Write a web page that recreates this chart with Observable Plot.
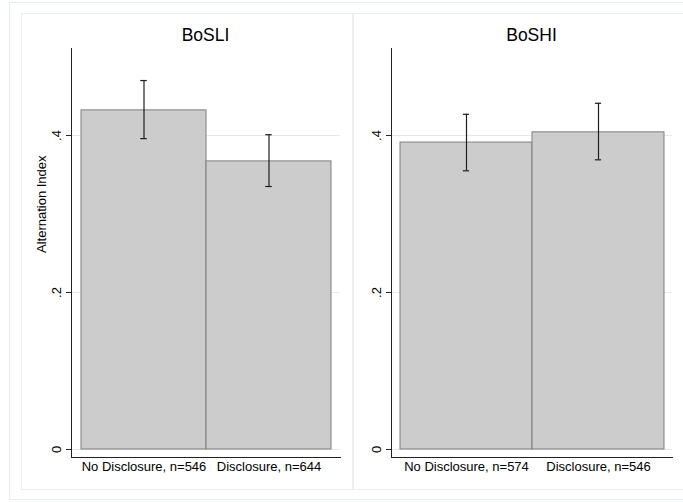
<!DOCTYPE html>
<html>
<head>
<meta charset="utf-8">
<script src="https://cdn.jsdelivr.net/npm/d3@7"></script>
<script src="https://cdn.jsdelivr.net/npm/@observablehq/plot@0.6"></script>
<style>
  html, body { margin: 0; padding: 0; background: #fff; }
  #wrap { position: relative; width: 683px; height: 502px; background: #fff; overflow: hidden;
          font-family: "Liberation Sans", Arial, Helvetica, sans-serif; }
  .box { position: absolute; box-sizing: border-box; }
  .title { position: absolute; top: 24px; font-size: 17.5px; color: #000; text-align: center; line-height: 22px; }
  .chart { position: absolute; top: 0; }
</style>
</head>
<body>
<div id="wrap">
  <div class="box" style="left:9px;top:2px;width:700px;height:498px;border:1px solid #e4eeef;"></div>
  <div class="box" style="left:21px;top:13px;width:332px;height:477px;border:1.5px solid #eeeeee;"></div>
  <div class="box" style="left:353px;top:13px;width:400px;height:477px;border:1.5px solid #eeeeee;"></div>
</div>
<script>
// ---- data ----
const panelTitles = ["BoSLI", "BoSHI"];
const bosliCategories = ["No Disclosure, n=546", "Disclosure, n=644"];
const bosliMeans = [0.432, 0.367];
const bosliLower = [0.396, 0.335];
const bosliUpper = [0.470, 0.401];

const boshiCategories = ["No Disclosure, n=574", "Disclosure, n=546"];
const boshiMeans = [0.391, 0.404];
const boshiLower = [0.355, 0.369];
const boshiUpper = [0.427, 0.441];

const yTicks = [0, 0.2, 0.4];
const yTickLabels = ["0", ".2", ".4"];
const yAxisLabel = "Alternation Index";

// ---- drawing ----
const FONT = '"Liberation Sans", Arial, Helvetica, sans-serif';
const wrap = document.getElementById("wrap");

function panel({cats, means, lo, hi, left, width, marginLeft, marginRight, paddingOuter, showLabel, title}) {
  const data = cats.map((c, i) => ({cat: c, mean: means[i], lo: lo[i], hi: hi[i]}));
  const plotW = width - marginLeft - marginRight;
  const bw = plotW / (2 + 2 * paddingOuter);
  const capInset = (bw - 7) / 2;
  const errStroke = "#1e1e1e";
  const chart = Plot.plot({
    width, height: 502,
    marginLeft, marginRight, marginTop: 48, marginBottom: 45,
    style: {background: "transparent", fontFamily: FONT, fontSize: "13px", color: "#000", overflow: "visible"},
    x: {domain: cats, paddingInner: 0, paddingOuter, axis: null, label: null},
    y: {domain: [-0.0102, 0.5108], axis: null, label: null},
    marks: [
      Plot.ruleY(yTicks, {stroke: "#e8e8e8", strokeWidth: 1}),
      Plot.barY(data, {x: "cat", y: "mean", fill: "#cccccc", stroke: "#7f7f7f", strokeWidth: 1}),
      Plot.ruleX(data, {x: "cat", y1: "lo", y2: "hi", stroke: errStroke, strokeWidth: 1.2}),
      Plot.tickY(data, {x: "cat", y: "lo", insetLeft: capInset, insetRight: capInset, stroke: errStroke, strokeWidth: 1.2}),
      Plot.tickY(data, {x: "cat", y: "hi", insetLeft: capInset, insetRight: capInset, stroke: errStroke, strokeWidth: 1.2}),
      Plot.axisY({ticks: yTicks, tickFormat: (d) => yTickLabels[yTicks.indexOf(d)], tickSize: 5, tickRotate: -90,
                  tickPadding: 6, fontSize: 13, label: null, stroke: "#222"}),
      Plot.axisX({tickSize: 0, tickPadding: 4, fontSize: 13, label: null}),
      Plot.frame({anchor: "left", stroke: "#222"}),
      Plot.frame({anchor: "bottom", stroke: "#222"}),
      showLabel ? Plot.text([yAxisLabel], {frameAnchor: "left", rotate: -90, dx: -30, fontSize: 13, fill: "#000"}) : null
    ]
  });
  chart.classList.add("chart");
  chart.style.left = left + "px";
  wrap.appendChild(chart);
  const t = document.createElement("div");
  t.className = "title";
  t.textContent = title;
  t.style.left = (left + marginLeft) + "px";
  t.style.width = plotW + "px";
  wrap.appendChild(t);
}

panel({cats: bosliCategories, means: bosliMeans, lo: bosliLower, hi: bosliUpper,
       left: 0, width: 352, marginLeft: 71, marginRight: 12, paddingOuter: 0.0717, showLabel: true, title: panelTitles[0]});
panel({cats: boshiCategories, means: boshiMeans, lo: boshiLower, hi: boshiUpper,
       left: 352, width: 331, marginLeft: 39, marginRight: 11, paddingOuter: 0.058, showLabel: false, title: panelTitles[1]});
</script>
</body>
</html>
